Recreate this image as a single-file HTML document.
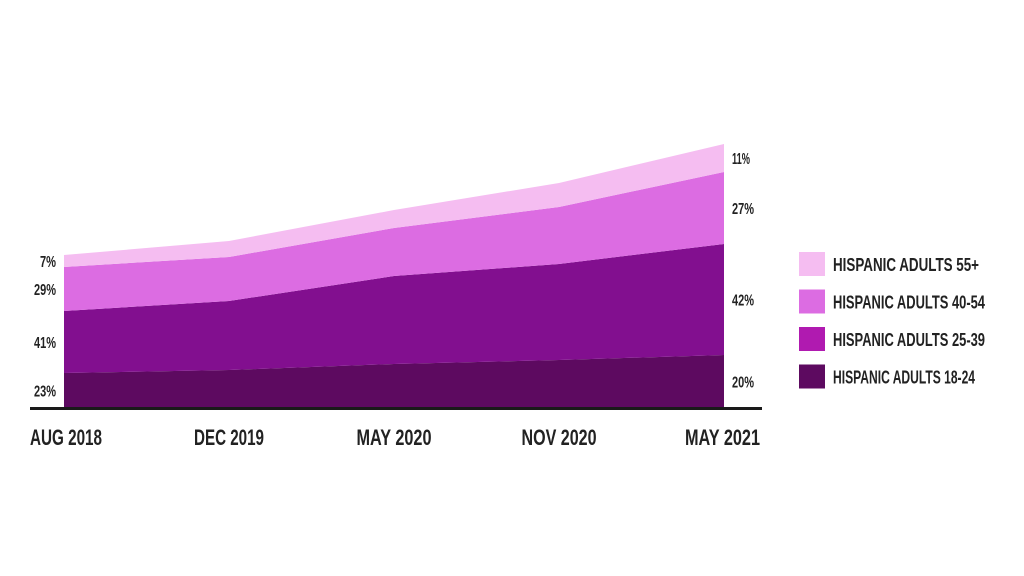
<!DOCTYPE html>
<html><head><meta charset="utf-8"><style>
body{margin:0;background:#fff;width:1024px;height:576px;overflow:hidden}
svg{display:block}
text{font-family:"Liberation Sans Narrow","Liberation Sans",sans-serif;font-weight:bold;fill:#222}
</style></head><body>
<svg id="chart" width="1024" height="576"></svg>
<script>
const categories=["AUG 2018","DEC 2019","MAY 2020","NOV 2020","MAY 2021"];
const s1824=[35,38,44,48,53];
const s2539=[62,69,88,96,111];
const s4054=[44,44,48,57,72];
const s55=[12,16,18,24,28];
const leftLabels=["23%","41%","29%","7%"];
const rightLabels=["20%","42%","27%","11%"];
const seriesNames=["HISPANIC ADULTS 18-24","HISPANIC ADULTS 25-39","HISPANIC ADULTS 40-54","HISPANIC ADULTS 55+"];
const colors=["#5d0a60","#820f8f","#dc6ce2","#f5bdf1"];
const legendColors=["#5d0a60","#b01ab0","#dc6ce2","#f5bdf1"];
const NS="http://www.w3.org/2000/svg";
const svg=document.getElementById('chart');
const x0=64,x1=724,base=408;
const xs=i=>x0+(x1-x0)*i/(categories.length-1);
const ys=v=>base-v;
function mk(t,a){const e=document.createElementNS(NS,t);for(const k in a)e.setAttribute(k,a[k]);svg.appendChild(e);return e;}
function squeeze(t,w){t.setAttribute('textLength',w);t.setAttribute('lengthAdjust','spacingAndGlyphs');}
const series=[s1824,s2539,s4054,s55];
const cum=[];let prev=categories.map(()=>0);
series.forEach((s,k)=>{
  const top=prev.map((p,i)=>p+s[i]);
  let d="";
  top.forEach((v,i)=>{d+=(i?"L":"M")+xs(i)+","+ys(v);});
  for(let i=prev.length-1;i>=0;i--)d+="L"+xs(i)+","+ys(prev[i]);
  const p=mk('path',{d:d+"Z",fill:colors[k]});
  
  
  cum.push({lo:prev,hi:top});prev=top;
});
const ax=mk('rect',{x:30,y:407,width:732,height:3,fill:"#1a1a1a"});


categories.forEach((c,i)=>{
  let x=xs(i),anchor="middle";
  if(i===0){x=30;anchor="start";}
  if(i===categories.length-1){x=760;anchor="end";}
  const t=mk('text',{x:x,y:445,'font-size':22,'text-anchor':anchor});t.textContent=c;
  squeeze(t,c.startsWith("DEC")?70:c.startsWith("AUG")?72:75);
  
  
});
cum.forEach((c,k)=>{
  const n=categories.length-1;
  const t=mk('text',{x:56,y:(ys(c.lo[0])+ys(c.hi[0]))/2+6,'font-size':16,'text-anchor':'end'});t.textContent=leftLabels[k];
  squeeze(t,leftLabels[k].length>2?22:16);
  
  
  const r=mk('text',{x:732,y:(ys(c.lo[n])+ys(c.hi[n]))/2+6,'font-size':16,'text-anchor':'start'});r.textContent=rightLabels[k];
  squeeze(r,rightLabels[k]==="11%"?18:22);
  
  
});
const legW=[142,152,152,146];
for(let k=3;k>=0;k--){
  const row=3-k,y=252+row*37.5;
  const sw=mk('rect',{x:799,y:y,width:26,height:24,fill:legendColors[k]});
  
  
  const t=mk('text',{x:833,y:y+19,'font-size':18});t.textContent=seriesNames[k];
  squeeze(t,legW[k]);
  
  
}
</script>
</body></html>
